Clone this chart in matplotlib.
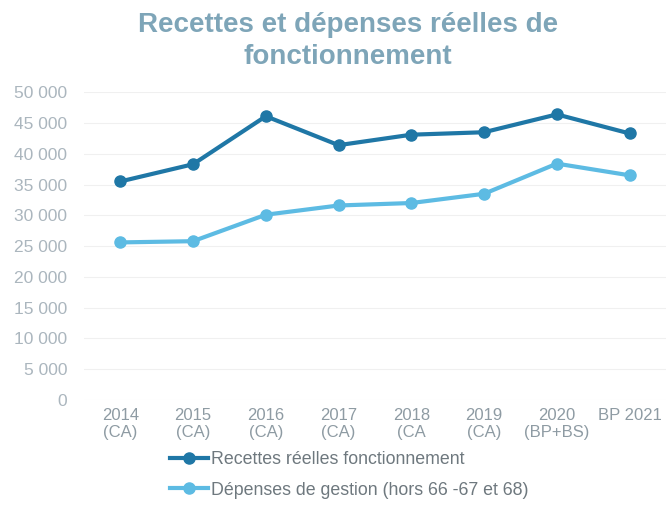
import matplotlib
matplotlib.use('Agg')
import matplotlib.pyplot as plt

plt.rcParams['font.family'] = ['Liberation Sans', 'DejaVu Sans']

# labels des exercices
categories = ['2014\n(CA)', '2015\n(CA)', '2016\n(CA)', '2017\n(CA)', '2018\n(CA',
              '2019\n(CA)', '2020\n(BP+BS)', 'BP 2021\n']
# montants (k€)
recettes = [35500, 38300, 46100, 41400, 43100, 43500, 46400, 43300]
depenses = [25600, 25800, 30100, 31600, 32000, 33500, 38400, 36500]
yticks = [0, 5000, 10000, 15000, 20000, 25000, 30000, 35000, 40000, 45000, 50000]

dark = '#1f77a6'
light = '#5dbbe3'

fig = plt.figure(figsize=(6.66, 5.27), dpi=100)
ax = fig.add_axes([0.126, 0.241, 0.874, 0.584])

x = range(len(categories))
ax.plot(x, recettes, color=dark, lw=3.0, marker='o', ms=8, label='Recettes réelles fonctionnement')
ax.plot(x, depenses, color=light, lw=3.0, marker='o', ms=8, label='Dépenses de gestion (hors 66 -67 et 68)')

ax.set_xlim(-0.5, 7.5)
ax.set_ylim(0, 50000)
ax.set_yticks(yticks)
ax.set_yticklabels([f'{v:,}'.replace(',', ' ') for v in yticks])
ax.set_xticks(list(x))
ax.set_xticklabels(categories)
ax.tick_params(axis='y', length=0, pad=12, labelsize=12.5, labelcolor='#abb6be')
ax.tick_params(axis='x', length=0, pad=6, labelsize=12, labelcolor='#8e9ba3')
for lab in ax.get_xticklabels():
    lab.set_linespacing(1.1)

ax.grid(axis='y', color='#f0f0f0', lw=0.8)
ax.set_axisbelow(True)
for s in ax.spines.values():
    s.set_visible(False)

fig.text(0.522, 0.978, 'Recettes et dépenses réelles de\nfonctionnement', ha='center', va='top',
         fontsize=20, fontweight='bold', color='#7ea5b8', linespacing=1.32)

leg = fig.legend(loc='upper left', bbox_to_anchor=(0.245, 0.157), frameon=False,
                 fontsize=12.8, handlelength=2.1, handletextpad=0.2, labelspacing=0.75,
                 borderaxespad=0)
for t in leg.get_texts():
    t.set_color('#6e787e')

fig.savefig('out.png', dpi=100)
